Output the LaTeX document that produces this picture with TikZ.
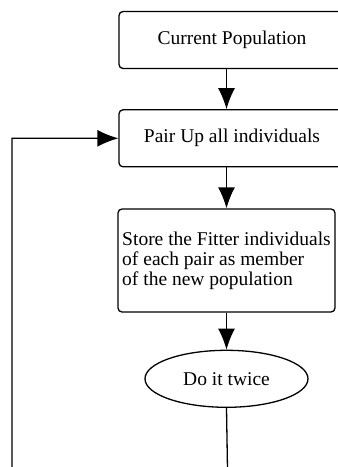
\documentclass[tikz,border=0pt]{standalone}
\usepackage{fontspec}
\setmainfont{Liberation Serif}
\usepackage{tikz}
\usetikzlibrary{arrows.meta,positioning,shapes.geometric}

\begin{document}
\begin{tikzpicture}[
  x=1pt,y=1pt,
  font=\fontsize{19.5}{20}\selectfont,
  line width=1.3pt,
  box/.style={rounded corners=4pt,draw,line width=1.3pt,inner sep=3pt},
  stage/.style={box,minimum width=226pt,minimum height=57pt,align=center},
  storebox/.style={box,minimum width=217pt,minimum height=103pt,align=left},
  loopell/.style={ellipse,draw,line width=1.3pt,minimum width=163pt,minimum height=57pt,inner sep=0pt},
  arr/.style={-{Latex[length=21pt,width=17pt]}}]
\path[use as bounding box,clip] (0,0) rectangle (338,-467);
\node[stage] (cur) at (232,-40) {Current Population};
\node[stage,below=40pt of cur] (pair) {Pair Up all individuals};
\node[storebox] (store) at (226.5,-260.5) {Store the Fitter individuals\\of each pair as member\\of the new population};
\node[loopell,below=37pt of store.south,anchor=north] (twice) {Do it twice};
\draw[arr] (cur.south -| store) -- (pair.north -| store);
\draw[arr] (pair.south -| store) -- (store.north);
\draw[arr] (store.south) -- (twice.north);
% loop back to the pairing step
\coordinate (loopdown) at (228,-500);
\coordinate (loopleft) at (12,-500);
\draw[arr] (twice.south) -- (loopdown) -- (loopleft) |- (pair.west);
\end{tikzpicture}
\end{document}
